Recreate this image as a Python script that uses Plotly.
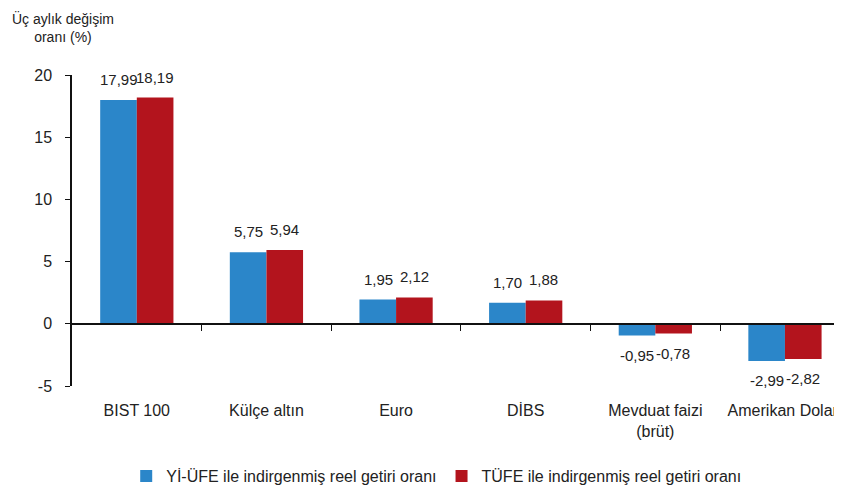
"Üç aylık reel getiri grafiği"

import plotly.graph_objects as go

categories = ["BIST 100", "Külçe altın", "Euro", "DİBS", "Mevduat faizi<br>(brüt)", "Amerikan Doları"]
yi_ufe = [17.99, 5.75, 1.95, 1.70, -0.95, -2.99]
tufe = [18.19, 5.94, 2.12, 1.88, -0.78, -2.82]
series_names = ["Yİ-ÜFE ile indirgenmiş reel getiri oranı", "TÜFE ile indirgenmiş reel getiri oranı"]
y_ticks = [-5, 0, 5, 10, 15, 20]
y_ticktext = ["-5", "0", "5", "10", "15", "20"]

FONT = "Liberation Sans, Arial, sans-serif"
BLUE = "#2B86C9"
RED = "#B3141D"


def fmt(v):
    return f"{v:.2f}".replace(".", ",")


fig = go.Figure()

for name, vals, color in zip(series_names, [yi_ufe, tufe], [BLUE, RED]):
    fig.add_trace(go.Bar(x=categories, y=vals, name=name, marker_color=color,
                         marker_line_width=0))

# value labels, placed on each bar of the group
for k, vals in enumerate([yi_ufe, tufe]):
    shift = -18 if k == 0 else 18
    for cat, v in zip(categories, vals):
        fig.add_annotation(x=cat, y=v, text=fmt(v), showarrow=False,
                           xshift=shift, yshift=10 if v >= 0 else -9,
                           yanchor="bottom" if v >= 0 else "top",
                           font=dict(family=FONT, size=15, color="#222"))

# axis through zero with ticks between categories
fig.add_trace(go.Scatter(x=[0.5], y=[0], xaxis="x2", mode="markers",
                         marker_opacity=0, showlegend=False, hoverinfo="skip"))

fig.update_layout(
    width=834, height=485,
    margin=dict(l=64, r=0, t=67, b=106),
    paper_bgcolor="white", plot_bgcolor="white",
    barmode="group", bargap=0.435, bargroupgap=0,
    font=dict(family=FONT, size=16, color="#222"),
    showlegend=True,
    legend=dict(orientation="h", x=0.473, xanchor="center", y=-0.288, yanchor="middle",
                font=dict(size=16), itemwidth=30, traceorder="normal"),
    xaxis=dict(range=[-0.5, 5.44], showline=False, ticks="", showgrid=False,
               tickfont=dict(size=16), ticklabelstandoff=13, automargin=False),
    xaxis2=dict(range=[-0.5, 5.44], overlaying="x", anchor="free", position=0.2,
                side="bottom", showline=True, linecolor="#111", linewidth=1.5,
                ticks="outside", ticklen=6, tickcolor="#111",
                tickvals=[0.5, 1.5, 2.5, 3.5, 4.5], showticklabels=False,
                showgrid=False, zeroline=False, automargin=False),
    yaxis=dict(range=[-5, 20], tickvals=y_ticks, ticktext=y_ticktext,
               showgrid=False, zeroline=False,
               showline=True, linecolor="#111", linewidth=1.5,
               ticks="outside", ticklen=5, tickcolor="#111",
               tickfont=dict(size=16), ticklabelstandoff=10, automargin=False),
)

fig.add_annotation(text="Üç aylık değişim<br>oranı (%)", xref="paper", yref="paper",
                   x=-0.081, y=1.215, xanchor="left", yanchor="top", showarrow=False,
                   align="center", font=dict(family=FONT, size=14, color="#222"))

fig.write_html("out.html")
